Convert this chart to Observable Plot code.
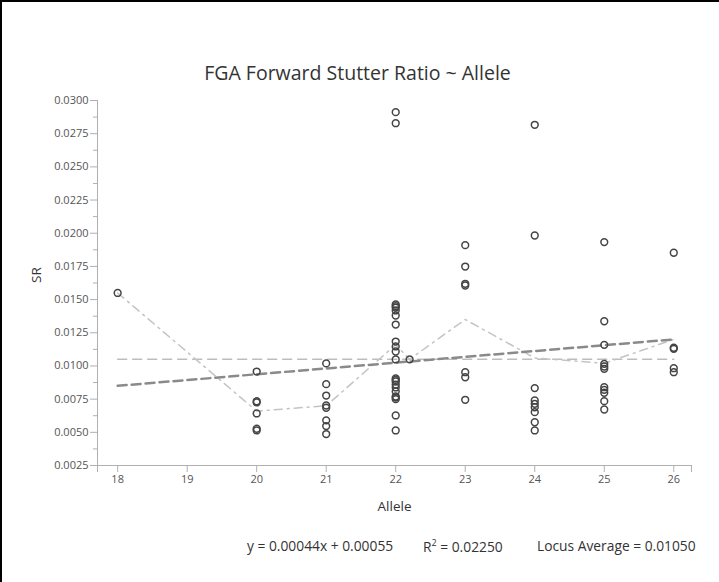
<!DOCTYPE html>
<html>
<head>
<meta charset="utf-8">
<script src="https://cdn.jsdelivr.net/npm/d3@7"></script>
<script src="https://cdn.jsdelivr.net/npm/@observablehq/plot@0.6"></script>
<style>
  body { margin: 0; background: #fff; font-family: "Open Sans", sans-serif; }
  #wrap { position: relative; width: 719px; height: 582px; overflow: hidden; background: #fff; }
  .bl { position: absolute; left: 0; top: 0; width: 2px; height: 582px; background: #000; }
  .bt { position: absolute; left: 0; top: 0; width: 719px; height: 2px; background: #000; }
  #title { position: absolute; top: 59px; left: 0; width: 715px; text-align: center; font-size: 19.5px; color: #333; }
  #chart { position: absolute; top: 95px; left: 0; }
  .cap { position: absolute; top: 536px; font-size: 13.8px; color: #333; white-space: nowrap; }
</style>
</head>
<body>
<div id="wrap">
  <div id="title">FGA Forward Stutter Ratio ~ Allele</div>
  <div id="chart"></div>
  <div class="cap" style="left:247px">y = 0.00044x + 0.00055</div>
  <div class="cap" style="left:423px">R<sup style="font-size:9px">2</sup> = 0.02250</div>
  <div class="cap" style="left:537px">Locus Average = 0.01050</div>
  <div class="bl"></div>
  <div class="bt"></div>
</div>
<script>
const alleles = [18, 20, 21, 22, 22.2, 23, 24, 25, 26];
const sr18 = [0.0155];
const sr20 = [0.00958, 0.00734, 0.00725, 0.00642, 0.00527, 0.00514];
const sr21 = [0.01019, 0.00863, 0.00777, 0.00702, 0.00685, 0.00590, 0.00547, 0.00487];
const sr22 = [0.02912, 0.02829, 0.01463, 0.01450, 0.01440, 0.01418, 0.01380, 0.01312, 0.01184, 0.01147, 0.01109, 0.01049,
              0.00906, 0.00895, 0.00883, 0.00860, 0.00838, 0.00808, 0.00770, 0.00762, 0.00750, 0.00627, 0.00514];
const sr22_2 = [0.0105];
const sr23 = [0.0191, 0.01749, 0.01619, 0.01606, 0.00953, 0.00915, 0.00745];
const sr24 = [0.02817, 0.01983, 0.00833, 0.0074, 0.00715, 0.00689, 0.00652, 0.00576, 0.00514];
const sr25 = [0.01933, 0.01337, 0.01159, 0.01016, 0.00996, 0.00978, 0.0084, 0.0082, 0.00798, 0.00735, 0.00672];
const sr26 = [0.01853, 0.01137, 0.01129, 0.00983, 0.00953];
const srGroups = [sr18, sr20, sr21, sr22, sr22_2, sr23, sr24, sr25, sr26];

// Per-allele mean line
const meanAllele = [18, 20, 21, 22, 22.2, 23, 24, 25, 26];
const meanSR = [0.0155, 0.0066, 0.0070, 0.0116, 0.0105, 0.0135, 0.0106, 0.0102, 0.0120];

// Regression line end points and locus average line
const regAllele = [18, 26];
const regSR = [0.0085, 0.0120];
const locusAllele = [18, 26];
const locusSR = [0.0105, 0.0105];

// Axis ticks
const xTicks = [18, 19, 20, 21, 22, 23, 24, 25, 26];
const yTicks = [0.0025, 0.0050, 0.0075, 0.0100, 0.0125, 0.0150, 0.0175, 0.0200, 0.0225, 0.0250, 0.0275, 0.0300];
const yMinor = [0.00375, 0.00625, 0.00875, 0.01125, 0.01375, 0.01625, 0.01875, 0.02125, 0.02375, 0.02625, 0.02875];
const xDomain = [17.71, 26.255];
const yDomain = [0.0025, 0.03];

const pts = alleles.flatMap((a, i) => srGroups[i].map(v => ({allele: a, sr: v})));
const meanPts = meanAllele.map((a, i) => ({allele: a, sr: meanSR[i]}));
const regPts = regAllele.map((a, i) => ({allele: a, sr: regSR[i]}));
const locusPts = locusAllele.map((a, i) => ({allele: a, sr: locusSR[i]}));

const axisColor = "#b0b0b0";
const chart = Plot.plot({
  width: 719,
  height: 425,
  marginLeft: 97,
  marginRight: 28,
  marginTop: 5,
  marginBottom: 55,
  x: {domain: xDomain},
  y: {domain: yDomain},
  style: {fontFamily: "Open Sans", fontSize: "11px", color: "#555", background: "white", overflow: "visible"},
  marks: [
    Plot.ruleX([xDomain[0]], {stroke: axisColor}),
    Plot.ruleY([yDomain[0]], {stroke: axisColor}),
    Plot.axisY({ticks: yTicks, tickFormat: d3.format(".4f"), tickSize: 7, tickPadding: 2, stroke: axisColor, label: null}),
    Plot.axisY({ticks: yMinor, tickFormat: () => "", tickSize: 4, stroke: axisColor, label: null}),
    Plot.axisX({ticks: xTicks, tickFormat: d => String(d), tickSize: 7, tickPadding: 3, stroke: axisColor, label: null}),
    Plot.axisX({ticks: xDomain, tickFormat: () => "", tickSize: 7, stroke: axisColor, label: null}),
    Plot.text(["SR"], {frameAnchor: "left", dx: -61, rotate: -90, text: d => d, fontSize: 13.5, fill: "#333"}),
    Plot.text(["Allele"], {frameAnchor: "bottom", dy: 45, text: d => d, fontSize: 13.5, fill: "#333"}),
    Plot.line(locusPts, {x: "allele", y: "sr", stroke: "#bdbdbd", strokeWidth: 1.5, strokeDasharray: "9,6"}),
    Plot.line(meanPts, {x: "allele", y: "sr", stroke: "#c4c4c4", strokeWidth: 1.5, strokeDasharray: "8,5,2,5"}),
    Plot.line(regPts, {x: "allele", y: "sr", stroke: "#8a8a8a", strokeWidth: 2.5, strokeDasharray: "9,5"}),
    Plot.dot(pts, {x: "allele", y: "sr", r: 3.4, stroke: "#444", strokeWidth: 1.5, fill: "none"})
  ]
});
document.getElementById("chart").appendChild(chart);
</script>
</body>
</html>
